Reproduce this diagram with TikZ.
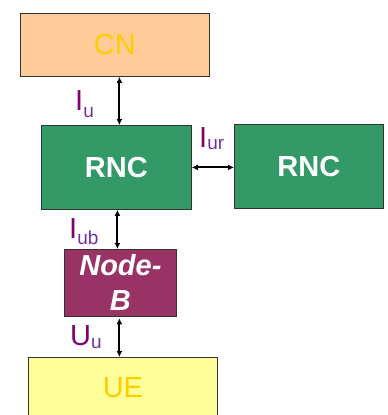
\documentclass[tikz,border=0pt]{standalone}
\usepackage{fontspec}
\setmainfont{Liberation Sans}
\usepackage{tikz}
\usetikzlibrary{arrows.meta, calc}
\usepackage{xcolor}

\definecolor{cnfill}{HTML}{FFCC99}
\definecolor{rncfill}{HTML}{339966}
\definecolor{nbfill}{HTML}{993366}
\definecolor{uefill}{HTML}{FFFF99}
\definecolor{gold}{HTML}{FFCC00}
\definecolor{ifmain}{HTML}{800070}
\definecolor{ifsub}{HTML}{7030A0}

% interface label: main letter, subscript, drop of the subscript
\newcommand{\iflabel}[3]{{\color{ifmain}#1}\raisebox{-#3pt}{\color{ifsub}\fontsize{19}{19}\selectfont #2}}

\begin{document}
\begin{tikzpicture}[x=1pt, y=-1pt,
    box/.style={draw=black!80, line width=0.8pt, inner sep=0pt, anchor=north west},
    boxtext/.style={font=\fontsize{29}{35}\selectfont},
    link/.style={line width=1.9pt, {Latex[length=6pt,width=6pt]}-{Latex[length=6pt,width=6pt]}},
    iflbl/.style={inner sep=0pt, anchor=base west, font=\fontsize{29}{29}\selectfont}]

    % ==========================================
    % FRAME
    % ==========================================
    \clip (0,0) rectangle (388,415);

    % ==========================================
    % BOXES
    % ==========================================

    % core network at the top
    \node[box, boxtext, fill=cnfill, text=gold, minimum width=189pt, minimum height=63pt] (cn) at (20,13) {CN};

    % the two radio network controllers
    \node[box, boxtext, fill=rncfill, text=white, font=\bfseries\fontsize{29}{35}\selectfont,
          minimum width=150pt, minimum height=84pt] (rncA) at (41,125) {RNC};
    \node[box, boxtext, fill=rncfill, text=white, font=\bfseries\fontsize{29}{35}\selectfont,
          minimum width=149pt, minimum height=84pt] (rncB) at (234,124) {RNC};

    % base station
    \node[box, fill=nbfill, text=white, align=center, font=\bfseries\itshape\fontsize{29}{35}\selectfont,
          minimum width=112pt, minimum height=67pt] (nodeb) at (64,249) {Node-\\B};

    % user equipment, runs past the lower edge
    \node[box, boxtext, fill=uefill, text=gold, minimum width=189pt, minimum height=60pt] (ue) at (28,357) {UE};

    % ==========================================
    % LINKS
    % ==========================================
    \draw[link] ([xshift=4.5pt]cn.south) -- ([xshift=4.5pt]cn.south |- rncA.north);
    \draw[link] (rncA.east) -- (rncA.east -| rncB.west);
    \draw[link] ([xshift=1pt]rncA.south) -- ([xshift=1pt]rncA.south |- nodeb.north);
    \draw[link] ([xshift=-1pt,yshift=-1.5pt]nodeb.south) -- ([xshift=-1pt]nodeb.south |- ue.north);

    % ==========================================
    % INTERFACE LABELS
    % ==========================================
    \node[iflbl] (iu)  at (75,110)  {\iflabel{I}{u}{7}};
    \node[iflbl] (iur) at (199,147) {\iflabel{I}{ur}{2}};
    \node[iflbl] (iub) at (69,238)  {\iflabel{I}{ub}{6}};
    \node[iflbl] (uu)  at (70,345)  {\iflabel{U}{u}{3}};

\end{tikzpicture}
\end{document}
